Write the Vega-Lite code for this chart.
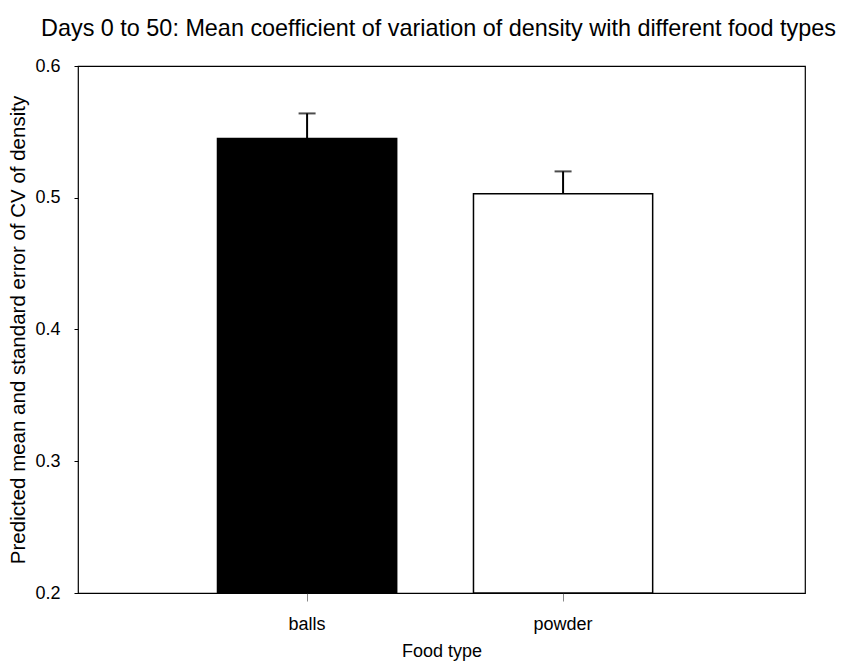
{
  "$schema": "https://vega.github.io/schema/vega-lite/v6.json",
  "autosize": {"type": "none"},
  "width": 727,
  "height": 527,
  "padding": {"left": 78, "top": 66, "right": 36, "bottom": 73},
  "background": "white",
  "title": {
    "text": "Days 0 to 50: Mean coefficient of variation of density with different food types",
    "font": "Liberation Sans",
    "fontSize": 23.4,
    "fontWeight": "normal",
    "color": "black",
    "anchor": "middle",
    "offset": 16,
    "dx": -3
  },
  "config": {
    "view": {"stroke": "black", "strokeWidth": 1.2},
    "axis": {
      "labelFont": "Liberation Sans",
      "titleFont": "Liberation Sans",
      "labelColor": "black",
      "titleColor": "black",
      "tickColor": "black",
      "domain": false,
      "grid": false,
      "titleFontWeight": "normal"
    }
  },
  "data": {
    "values": [
      {"food": "balls", "mean": 0.545, "upper": 0.564},
      {"food": "powder", "mean": 0.503, "upper": 0.520}
    ]
  },
  "encoding": {
    "x": {
      "field": "food",
      "type": "nominal",
      "sort": ["balls", "powder"],
      "scale": {"paddingInner": 0.3, "paddingOuter": 0.57, "align": 0.478},
      "axis": {
        "title": "Food type",
        "labelAngle": 0,
        "labelFontSize": 18,
        "titleFontSize": 18,
        "tickSize": 8,
        "labelPadding": 14,
        "titlePadding": 9,
        "tickColor": "#888"
      }
    }
  },
  "layer": [
    {
      "mark": {"type": "bar", "stroke": "black", "strokeWidth": 1.5},
      "encoding": {
        "y": {
          "field": "mean",
          "type": "quantitative",
          "scale": {"domain": [0.2, 0.6], "nice": false, "zero": false},
          "axis": {
            "title": "Predicted mean and standard error of CV of density",
            "values": [0.2, 0.3, 0.4, 0.5, 0.6],
            "format": ".1f",
            "labelFontSize": 18,
            "titleFontSize": 20.5,
            "tickSize": 4,
            "labelPadding": 14,
            "titlePadding": 6
          }
        },
        "y2": {"datum": 0.2},
        "fill": {
          "field": "food",
          "type": "nominal",
          "scale": {"domain": ["balls", "powder"], "range": ["black", "white"]},
          "legend": null
        }
      }
    },
    {
      "mark": {"type": "rule", "color": "black", "strokeWidth": 2},
      "encoding": {
        "y": {"field": "mean", "type": "quantitative"},
        "y2": {"field": "upper"}
      }
    },
    {
      "mark": {"type": "tick", "color": "black", "thickness": 2, "size": 17},
      "encoding": {
        "y": {"field": "upper", "type": "quantitative"}
      }
    }
  ]
}
